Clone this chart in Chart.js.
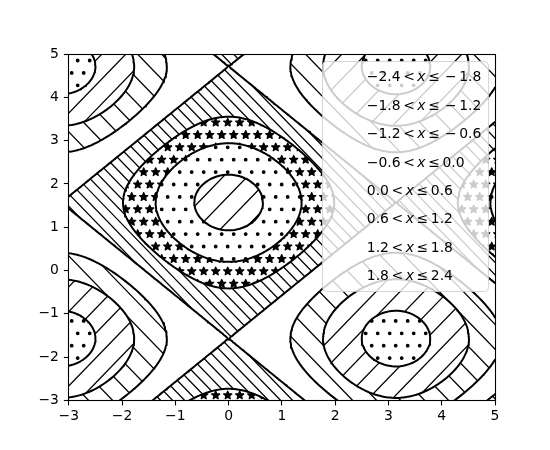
<!DOCTYPE html>
<html><head><meta charset="utf-8">
<script src="https://cdn.jsdelivr.net/npm/chart.js@4"></script>
<style>html,body{margin:0;padding:0;background:#fff}canvas{display:block}</style>
</head><body>
<canvas id="c" width="550" height="450"></canvas>
<script>
// ---------------- data ----------------
const xRange = [-3, 5];
const yRange = [-3, 5];
const xTicks = [-3, -2, -1, 0, 1, 2, 3, 4, 5];
const yTicks = [-3, -2, -1, 0, 1, 2, 3, 4, 5];
const xTickLabels = ['−3', '−2', '−1', '0', '1', '2', '3', '4', '5'];
const yTickLabels = ['−3', '−2', '−1', '0', '1', '2', '3', '4', '5'];
// filled band boundaries and the hatch of each band (lowest first)
const fillLevels = [-2.4, -1.8, -1.2, -0.6, 0.0, 0.6, 1.2, 1.8, 2.4];
const bandHatches = ['.', '/', '\\', null, '\\\\', '*', '.', '/'];
// contour line levels
const lineLevels = [-1.8, -1.2, -0.6, 0.0, 0.6, 1.2, 1.8];
// sampled surface z = cos(x) + sin(y) on a 150 x 120 grid
const gridNx = 150, gridNy = 120;
function surface(x, y) { return Math.cos(x) + Math.sin(y); }

// ---------------- grid ----------------
const gridX = [], gridY = [];
for (let i = 0; i < gridNx; i++) gridX.push(xRange[0] + (xRange[1] - xRange[0]) * i / (gridNx - 1));
for (let j = 0; j < gridNy; j++) gridY.push(yRange[0] + (yRange[1] - yRange[0]) * j / (gridNy - 1));
const Z = gridY.map(y => gridX.map(x => surface(x, y)));

function sampleZ(x, y) {
  let fi = (x - gridX[0]) / (gridX[1] - gridX[0]);
  let fj = (y - gridY[0]) / (gridY[1] - gridY[0]);
  fi = Math.max(0, Math.min(gridNx - 1.000001, fi));
  fj = Math.max(0, Math.min(gridNy - 1.000001, fj));
  const i = Math.floor(fi), j = Math.floor(fj), u = fi - i, v = fj - j;
  return Z[j][i] * (1 - u) * (1 - v) + Z[j][i + 1] * u * (1 - v) + Z[j + 1][i + 1] * u * v + Z[j + 1][i] * (1 - u) * v;
}

// marching squares -> line segments separated by gaps
function contourSegments(L) {
  const pts = [];
  const gap = { x: NaN, y: NaN };
  for (let j = 0; j < gridNy - 1; j++) {
    for (let i = 0; i < gridNx - 1; i++) {
      const z0 = Z[j][i], z1 = Z[j][i + 1], z2 = Z[j + 1][i + 1], z3 = Z[j + 1][i];
      const idx = (z0 > L ? 1 : 0) | (z1 > L ? 2 : 0) | (z2 > L ? 4 : 0) | (z3 > L ? 8 : 0);
      if (idx === 0 || idx === 15) continue;
      const x0 = gridX[i], x1 = gridX[i + 1], y0 = gridY[j], y1 = gridY[j + 1];
      const E = e => {
        let t;
        if (e === 0) { t = (L - z0) / (z1 - z0); return { x: x0 + t * (x1 - x0), y: y0 }; }
        if (e === 1) { t = (L - z1) / (z2 - z1); return { x: x1, y: y0 + t * (y1 - y0) }; }
        if (e === 2) { t = (L - z3) / (z2 - z3); return { x: x0 + t * (x1 - x0), y: y1 }; }
        t = (L - z0) / (z3 - z0); return { x: x0, y: y0 + t * (y1 - y0) };
      };
      const center = (z0 + z1 + z2 + z3) / 4 > L;
      let pairs;
      switch (idx) {
        case 1: case 14: pairs = [[3, 0]]; break;
        case 2: case 13: pairs = [[0, 1]]; break;
        case 3: case 12: pairs = [[3, 1]]; break;
        case 4: case 11: pairs = [[1, 2]]; break;
        case 6: case 9: pairs = [[0, 2]]; break;
        case 7: case 8: pairs = [[3, 2]]; break;
        case 5: pairs = center ? [[0, 1], [2, 3]] : [[3, 0], [1, 2]]; break;
        case 10: pairs = center ? [[3, 0], [1, 2]] : [[0, 1], [2, 3]]; break;
      }
      for (const [a, b] of pairs) { pts.push(E(a), E(b), gap); }
    }
  }
  return pts;
}
const contourPoints = [];
for (const L of lineLevels) contourPoints.push(...contourSegments(L));

// ---------------- hatching ----------------
const HX = 12, HY = 12.4, HOX = 371.7, HOY = 345.7;
function drawDot(c, x, y) { c.beginPath(); c.arc(x, y, 1.3, 0, Math.PI * 2); c.fill(); c.stroke(); }
function drawStar(c, x, y) {
  const R = 4.3, r = 2.0;
  c.beginPath();
  for (let k = 0; k < 10; k++) {
    const ang = -Math.PI / 2 + k * Math.PI / 5;
    const rr = k % 2 ? r : R;
    const px = x + rr * Math.cos(ang), py = y + rr * Math.sin(ang);
    if (k === 0) c.moveTo(px, py); else c.lineTo(px, py);
  }
  c.closePath(); c.fill(); c.stroke();
}
function drawHatch(c, h, a) {
  c.fillStyle = '#000'; c.strokeStyle = '#000'; c.lineWidth = 1.2; c.lineJoin = 'round';
  const pad = 20;
  if (h === '.' || h === '*') {
    const r0 = Math.floor((a.top - pad - HOY) / HY), r1 = Math.ceil((a.bottom + pad - HOY) / HY);
    for (let r = r0; r <= r1; r++) {
      const y = HOY + r * HY;
      const off = (((r % 2) + 2) % 2) ? HX / 2 : 0;
      const k0 = Math.floor((a.left - pad - HOX) / HX), k1 = Math.ceil((a.right + pad - HOX) / HX);
      for (let k = k0; k <= k1; k++) {
        const x = HOX + off + k * HX;
        if (h === '.') drawDot(c, x, y); else drawStar(c, x, y);
      }
    }
  } else {
    const n = h.length;
    const S = 2 * HX / n;
    const sgn = h[0] === '/' ? 1 : -1;
    const yT = a.top - 3, yB = a.bottom + 3;
    const dT = sgn * (HOY - yT) * HX / HY, dB = sgn * (HOY - yB) * HX / HY;
    const m = Math.max(Math.abs(dT), Math.abs(dB)) + 5;
    const k0 = Math.floor((a.left - m - HOX) / S), k1 = Math.ceil((a.right + m - HOX) / S);
    c.beginPath();
    for (let k = k0; k <= k1; k++) {
      const bx = HOX + k * S;
      c.moveTo(bx + dT, yT); c.lineTo(bx + dB, yB);
    }
    c.stroke();
  }
}
function bandOf(z) {
  for (let b = 0; b < fillLevels.length - 1; b++) {
    if (z <= fillLevels[b + 1]) return z > fillLevels[b] || b === 0 ? b : -1;
  }
  return -1;
}

const hatchPlugin = {
  id: 'hatchFill',
  beforeDatasetsDraw(chart) {
    const { ctx, chartArea: a, scales } = chart;
    const xs = scales.x, ys = scales.y;
    const L = Math.floor(a.left), T = Math.floor(a.top), R = Math.ceil(a.right), B = Math.ceil(a.bottom);
    const W = R - L, H = B - T;
    const imgs = {};
    for (const h of bandHatches) {
      if (!h || imgs[h]) continue;
      const cv = document.createElement('canvas'); cv.width = chart.width; cv.height = chart.height;
      const c = cv.getContext('2d');
      drawHatch(c, h, a);
      imgs[h] = c.getImageData(L, T, W, H).data;
    }
    const out = new ImageData(W, H);
    const od = out.data;
    for (let py = 0; py < H; py++) {
      const cy = T + py + 0.5;
      if (cy < a.top || cy > a.bottom) continue;
      const yv = ys.getValueForPixel(cy);
      for (let px = 0; px < W; px++) {
        const cx = L + px + 0.5;
        if (cx < a.left || cx > a.right) continue;
        const xv = xs.getValueForPixel(cx);
        const b = bandOf(sampleZ(xv, yv));
        if (b < 0) continue;
        const h = bandHatches[b];
        if (!h) continue;
        const src = imgs[h], o = (py * W + px) * 4;
        od[o] = src[o]; od[o + 1] = src[o + 1]; od[o + 2] = src[o + 2]; od[o + 3] = src[o + 3];
      }
    }
    const oc = document.createElement('canvas'); oc.width = W; oc.height = H;
    oc.getContext('2d').putImageData(out, 0, 0);
    ctx.save();
    ctx.beginPath(); ctx.rect(a.left, a.top, a.right - a.left, a.bottom - a.top); ctx.clip();
    ctx.drawImage(oc, L, T);
    ctx.restore();
  }
};

const spinePlugin = {
  id: 'spines',
  afterDatasetsDraw(chart) {
    const { ctx, chartArea: a } = chart;
    const l = Math.floor(a.left) + 0.5, r = Math.floor(a.right) + 0.5, t = Math.floor(a.top) + 0.5, b = Math.floor(a.bottom) + 0.5;
    ctx.save();
    ctx.strokeStyle = '#000'; ctx.lineWidth = 1.1;
    ctx.strokeRect(l, t, r - l, b - t);
    ctx.restore();
  }
};

const fmt = v => v.toFixed(1).replace('-', '−');
const FONT = 'DejaVu Sans';
const legendPlugin = {
  id: 'legendBox',
  afterDraw(chart) {
    const ctx = chart.ctx;
    ctx.save();
    const bx = 322.5, by = 61.5, bw = 166, bh = 230, rad = 4;
    ctx.beginPath();
    ctx.roundRect(bx, by, bw, bh, rad);
    ctx.fillStyle = 'rgba(255,255,255,0.8)';
    ctx.fill();
    ctx.strokeStyle = 'rgba(204,204,204,0.8)';
    ctx.lineWidth = 1;
    ctx.stroke();
    ctx.fillStyle = '#000';
    ctx.textBaseline = 'alphabetic';
    ctx.textAlign = 'left';
    const g = 2.6, fs = 13.9;
    const norm = fs + 'px "' + FONT + '"', ital = 'italic ' + fs + 'px "' + FONT + '"';
    for (let k = 0; k < fillLevels.length - 1; k++) {
      const lo = fmt(fillLevels[k]), hi = fmt(fillLevels[k + 1]);
      const base = 81.3 + 28.43 * k;
      let x = 366.8;
      ctx.font = norm;
      ctx.fillText(lo, x, base); x += ctx.measureText(lo).width + g;
      ctx.fillText('<', x, base); x += ctx.measureText('<').width + g;
      ctx.font = ital;
      ctx.fillText('x', x, base); x += ctx.measureText('x').width + g;
      ctx.font = norm;
      ctx.fillText('≤', x, base); x += ctx.measureText('≤').width + g;
      if (hi[0] === '−') {
        x += g;
        ctx.fillText('−', x, base); x += ctx.measureText('−').width + g;
        ctx.fillText(hi.slice(1), x, base);
      } else {
        ctx.fillText(hi, x, base);
      }
    }
    ctx.restore();
  }
};

// ---------------- chart ----------------
const tickFont = { family: FONT, size: 13.9 };
new Chart(document.getElementById('c'), {
  type: 'scatter',
  data: {
    datasets: [{
      data: contourPoints,
      showLine: true,
      borderColor: '#000',
      borderWidth: 2,
      pointRadius: 0,
      pointHoverRadius: 0,
      borderCapStyle: 'round',
      borderJoinStyle: 'round',
      spanGaps: false,
      tension: 0,
      fill: false
    }]
  },
  options: {
    responsive: false,
    animation: false,
    events: [],
    layout: { padding: { top: 54, right: 55, left: 0, bottom: 0 } },
    scales: {
      x: {
        type: 'linear', min: xRange[0], max: xRange[1],
        afterBuildTicks: s => { s.ticks = xTicks.map(v => ({ value: v })); },
        afterFit: s => { s.height = 49.5; },
        ticks: { callback: v => xTickLabels[xTicks.indexOf(v)], color: '#000', font: tickFont, padding: 3, maxRotation: 0, autoSkip: false },
        grid: { display: true, drawOnChartArea: false, drawTicks: true, tickLength: 4.9, tickColor: '#000', tickWidth: 1.1 },
        border: { display: false }
      },
      y: {
        type: 'linear', min: yRange[0], max: yRange[1],
        afterBuildTicks: s => { s.ticks = yTicks.map(v => ({ value: v })); },
        afterFit: s => { s.width = 68.75; },
        ticks: { callback: v => yTickLabels[yTicks.indexOf(v)], color: '#000', font: tickFont, padding: 4.9, autoSkip: false },
        grid: { display: true, drawOnChartArea: false, drawTicks: true, tickLength: 4.9, tickColor: '#000', tickWidth: 1.1 },
        border: { display: false }
      }
    },
    plugins: { legend: { display: false }, tooltip: { enabled: false } }
  },
  plugins: [hatchPlugin, spinePlugin, legendPlugin]
});
</script>
</body></html>
